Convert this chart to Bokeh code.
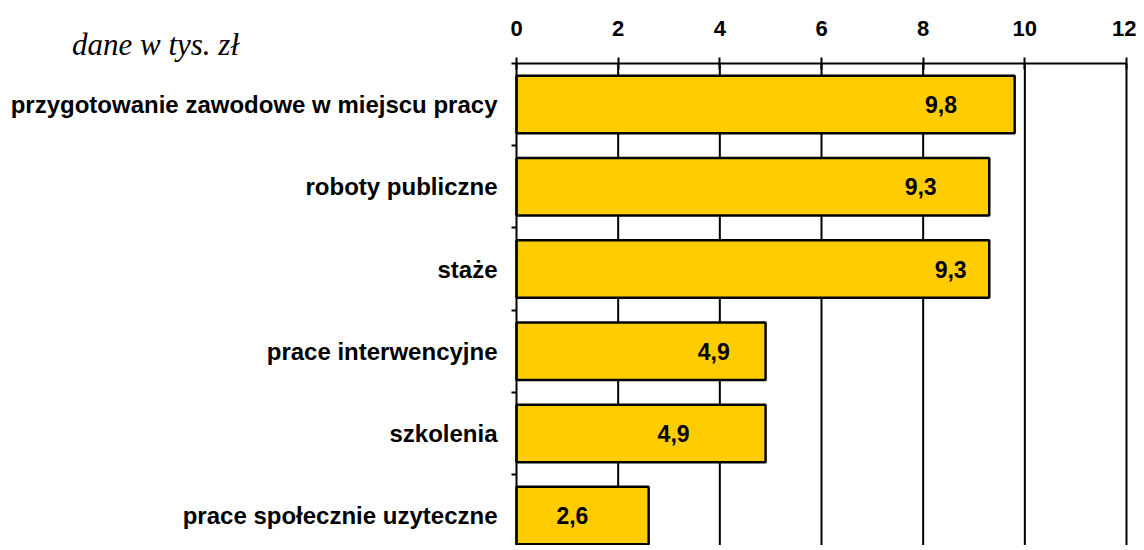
from bokeh.plotting import figure
from bokeh.models import Range1d, FixedTicker, LinearAxis, Label
from bokeh.core.properties import value
from bokeh.embed import file_html
from bokeh.resources import INLINE

categories = [
    "przygotowanie zawodowe w miejscu pracy",
    "roboty publiczne",
    "staże",
    "prace interwencyjne",
    "szkolenia",
    "prace społecznie uzyteczne",
]
values = [9.8, 9.3, 9.3, 4.9, 4.9, 2.6]
value_labels = ["9,8", "9,3", "9,3", "4,9", "4,9", "2,6"]
label_x = [8.35, 7.95, 8.54, 3.88, 3.09, 1.1]
x_ticks = [0, 2, 4, 6, 8, 10, 12]
unit_note = "dane w tys. zł"

centers = [i + 0.5 for i in range(len(categories))]
bounds = [float(i) for i in range(len(categories))]

# canvas geometry (pixels)
W, H = 1136, 545
X0, X12 = 516.0, 1126.0      # screen x of value 0 and 12
Y0, ROW = 63.0, 82.2         # screen y of top of plot area, row pitch
xu = (X12 - X0) / 12.0

x_start = -X0 / xu
x_end = (W - X0) / xu
y_top = -Y0 / ROW
y_bot = (H - Y0) / ROW

p = figure(width=W, height=H, output_backend="svg", toolbar_location=None,
           x_range=Range1d(x_start, x_end), y_range=Range1d(y_bot, y_top),
           x_axis_location=None, y_axis_location=None,
           min_border_left=0, min_border_right=0, min_border_top=0,
           min_border_bottom=0)
p.outline_line_color = None
p.background_fill_color = "white"
p.border_fill_color = "white"
p.xgrid.visible = False
p.ygrid.visible = False

# vertical grid lines (values 2..12) from the top axis downward
grid_bottom = len(categories) + 1
p.segment(x0=x_ticks[1:], x1=x_ticks[1:], y0=[0] * (len(x_ticks) - 1),
          y1=[grid_bottom] * (len(x_ticks) - 1), line_color="black",
          line_width=2)

# top axis
top = LinearAxis(ticker=FixedTicker(ticks=x_ticks), fixed_location=0,
                 bounds=(x_ticks[0], x_ticks[-1]))
top.axis_line_color = "black"
top.axis_line_width = 2
top.major_tick_line_color = "black"
top.major_tick_line_width = 2
top.major_tick_in = 6
top.major_tick_out = 6
top.minor_tick_line_color = None
top.major_label_text_font = "Liberation Sans"
top.major_label_text_font_style = "bold"
top.major_label_text_font_size = "22px"
top.major_label_text_color = "black"
top.major_label_standoff = 22
p.add_layout(top, "above")

# left axis
left = LinearAxis(ticker=FixedTicker(ticks=centers, minor_ticks=bounds),
                  fixed_location=0, bounds=(0, grid_bottom))
left.major_label_overrides = {c: t for c, t in zip(centers, categories)}
left.axis_line_color = "black"
left.axis_line_width = 2
left.major_tick_line_color = None
left.major_tick_in = 0
left.major_tick_out = 0
left.minor_tick_line_color = "black"
left.minor_tick_line_width = 2
left.minor_tick_in = 0
left.minor_tick_out = 5
left.major_label_text_font = "Liberation Sans"
left.major_label_text_font_style = "bold"
left.major_label_text_font_size = "24px"
left.major_label_text_color = "black"
left.major_label_standoff = 14
p.add_layout(left, "left")

p.hbar(y=centers, right=values, left=0, height=0.70,
       fill_color="#FFCC00", line_color="black", line_width=2.5)

p.text(x=label_x, y=centers, text=value_labels,
       text_font=value("Liberation Sans"), text_font_style="bold",
       text_font_size="23px", text_align="center", text_baseline="middle",
       text_color="black")

note = Label(x=(155 - X0) / xu, y=(44 - Y0) / ROW, text=unit_note,
             text_align="center", text_baseline="alphabetic",
             text_font="Liberation Serif", text_font_style="italic",
             text_font_size="31px", text_color="black")
p.add_layout(note)

open("out.html", "w").write(file_html(p, INLINE))
